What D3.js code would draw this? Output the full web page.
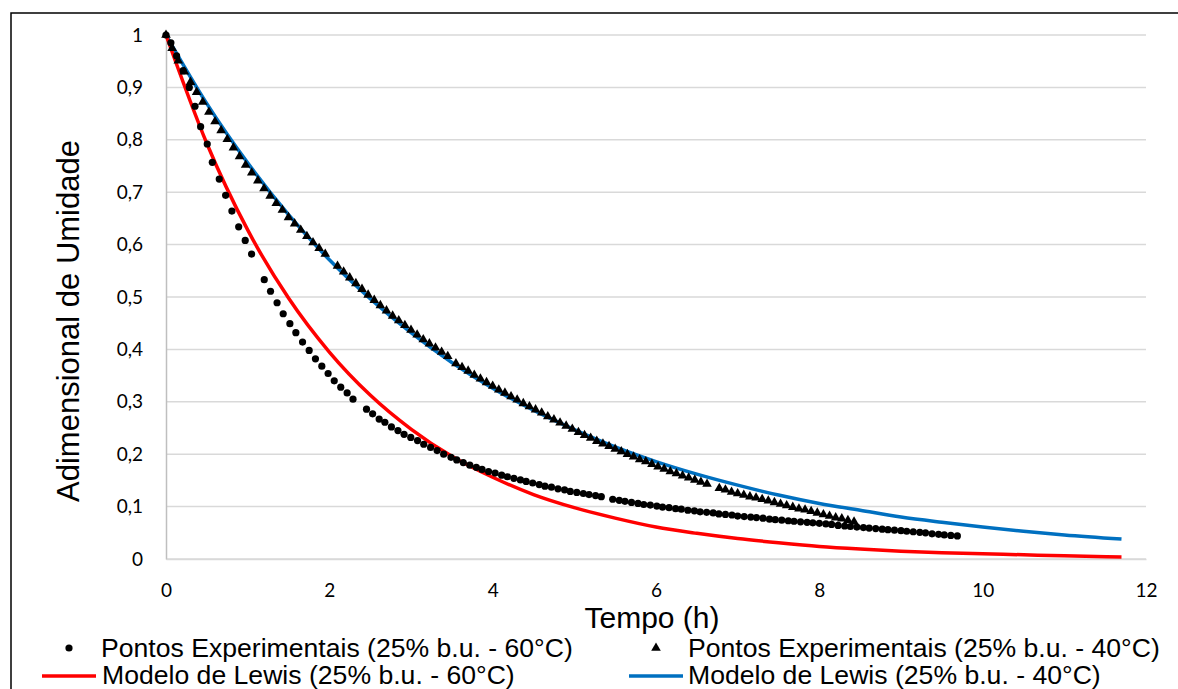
<!DOCTYPE html>
<html>
<head>
<meta charset="utf-8">
<script src="https://cdn.jsdelivr.net/npm/d3@7"></script>
<style>
  body { margin: 0; background: #fff; }
  svg { display: block; }
</style>
</head>
<body>
<svg id="chart" width="1178" height="689"></svg>
<script>
// experimental points, 25% b.u. - 60 C (circles)
var t60 = [0, 0.06, 0.13, 0.21, 0.285, 0.355, 0.424, 0.505, 0.567, 0.652, 0.73, 0.807, 0.89, 0.97, 1.048,
  1.203, 1.28, 1.36, 1.435, 1.517, 1.59, 1.672, 1.753, 1.83, 1.908, 1.985, 2.06, 2.14, 2.218, 2.29,
  2.455, 2.53, 2.61, 2.68, 2.76, 2.84, 2.915, 2.997, 3.08, 3.156, 3.24, 3.32, 3.40, 3.49, 3.56, 3.64, 3.72,
  3.80, 3.87, 3.95, 4.03, 4.11, 4.18, 4.26, 4.34, 4.41, 4.49, 4.57, 4.64, 4.72, 4.80, 4.88, 4.95, 5.03,
  5.11, 5.18, 5.26, 5.33,
  5.47, 5.55, 5.62, 5.70, 5.78, 5.85, 5.93, 6.01, 6.08, 6.16, 6.24, 6.31, 6.39, 6.47, 6.54, 6.62, 6.70,
  6.77, 6.85, 6.93, 7.00, 7.08, 7.16, 7.23, 7.31, 7.39, 7.46, 7.54, 7.62, 7.69, 7.77, 7.85, 7.92, 8.00,
  8.08, 8.15, 8.23, 8.31, 8.38, 8.46, 8.54, 8.61, 8.69, 8.77, 8.84, 8.92, 9.00, 9.07, 9.15, 9.23, 9.30,
  9.38, 9.46, 9.53, 9.61, 9.69];
var mr60 = [1.000, 0.985, 0.960, 0.932, 0.900, 0.864, 0.825, 0.792, 0.757, 0.725, 0.694, 0.664, 0.634, 0.608, 0.582,
  0.533, 0.511, 0.489, 0.468, 0.449, 0.432, 0.414, 0.398, 0.382, 0.368, 0.354, 0.340, 0.328, 0.317, 0.305,
  0.286, 0.277, 0.267, 0.261, 0.252, 0.245, 0.238, 0.232, 0.226, 0.219, 0.213, 0.207, 0.200, 0.194, 0.189, 0.184, 0.179,
  0.175, 0.171, 0.167, 0.164, 0.160, 0.157, 0.154, 0.151, 0.148, 0.145, 0.142, 0.139, 0.137, 0.134, 0.132, 0.129, 0.127,
  0.125, 0.123, 0.121, 0.119,
  0.114, 0.112, 0.110, 0.108, 0.106, 0.104, 0.103, 0.101, 0.099, 0.098, 0.096, 0.095, 0.093, 0.092, 0.090, 0.089, 0.088,
  0.086, 0.085, 0.084, 0.082, 0.081, 0.080, 0.079, 0.078, 0.076, 0.075, 0.074, 0.073, 0.072, 0.071, 0.070, 0.069, 0.068,
  0.067, 0.066, 0.064, 0.063, 0.062, 0.061, 0.060, 0.059, 0.058, 0.057, 0.056, 0.055, 0.054, 0.053, 0.052, 0.051, 0.050,
  0.048, 0.047, 0.046, 0.045, 0.044];

// experimental points, 25% b.u. - 40 C (triangles)
var t40 = [0, 0.075, 0.15, 0.225, 0.30, 0.375, 0.45, 0.525, 0.60, 0.675, 0.75, 0.825, 0.90, 0.975, 1.05, 1.125,
  1.20, 1.275, 1.35, 1.425, 1.50, 1.575, 1.65, 1.725, 1.80, 1.875, 1.95,
  2.10, 2.175, 2.25, 2.325, 2.40, 2.475, 2.55, 2.625, 2.70, 2.775, 2.85, 2.925, 3.00, 3.075, 3.15, 3.225, 3.30, 3.375, 3.45,
  3.55, 3.625, 3.70, 3.775, 3.85, 3.925, 4.00, 4.075, 4.15, 4.225, 4.30, 4.375, 4.45, 4.525, 4.60, 4.675, 4.75, 4.825,
  4.90, 4.975, 5.05, 5.125, 5.20, 5.275, 5.35, 5.425, 5.50, 5.575, 5.65, 5.725, 5.80, 5.875, 5.95, 6.025, 6.10, 6.175,
  6.25, 6.325, 6.40, 6.475, 6.55, 6.625,
  6.775, 6.85, 6.925, 7.00, 7.075, 7.15, 7.225, 7.30, 7.375, 7.45, 7.525, 7.60, 7.675, 7.75, 7.825, 7.90, 7.975, 8.05,
  8.125, 8.20, 8.275, 8.35, 8.425];
var mr40 = [1.000, 0.975, 0.951, 0.930, 0.910, 0.891, 0.872, 0.853, 0.835, 0.818, 0.801, 0.785, 0.768, 0.752, 0.737, 0.722,
  0.707, 0.693, 0.679, 0.666, 0.652, 0.640, 0.628, 0.616, 0.604, 0.593, 0.582,
  0.559, 0.548, 0.537, 0.526, 0.515, 0.504, 0.494, 0.484, 0.474, 0.464, 0.455, 0.446, 0.437, 0.428, 0.419, 0.411, 0.403, 0.395, 0.387,
  0.373, 0.366, 0.359, 0.351, 0.344, 0.337, 0.330, 0.323, 0.317, 0.310, 0.304, 0.297, 0.291, 0.285, 0.279, 0.272, 0.266, 0.260,
  0.254, 0.248, 0.242, 0.236, 0.231, 0.225, 0.220, 0.215, 0.210, 0.205, 0.200, 0.195, 0.190, 0.186, 0.181, 0.176, 0.172, 0.167,
  0.163, 0.159, 0.155, 0.151, 0.147, 0.143,
  0.135, 0.132, 0.128, 0.125, 0.122, 0.119, 0.117, 0.114, 0.111, 0.108, 0.105, 0.102, 0.099, 0.096, 0.094, 0.091, 0.088, 0.085,
  0.082, 0.079, 0.077, 0.074, 0.071];

// Lewis model curves
var tModel = [0, 0.5, 1, 1.5, 2, 2.5, 3, 3.5, 4, 4.5, 5, 5.5, 6, 6.5, 7, 7.5, 8, 8.5, 9, 9.5, 10, 10.5, 11, 11.7];
var lewis60 = [1, 0.793, 0.628, 0.498, 0.395, 0.313, 0.248, 0.196, 0.156, 0.123, 0.098, 0.078, 0.061, 0.049,
  0.039, 0.031, 0.024, 0.019, 0.015, 0.012, 0.010, 0.008, 0.006, 0.004];
var lewis40 = [1, 0.869, 0.756, 0.657, 0.571, 0.497, 0.432, 0.375, 0.326, 0.284, 0.247, 0.214, 0.186, 0.162,
  0.141, 0.122, 0.106, 0.093, 0.080, 0.070, 0.061, 0.053, 0.046, 0.038];

var xTicks = [0, 2, 4, 6, 8, 10, 12];
var yTicks = [0, 0.1, 0.2, 0.3, 0.4, 0.5, 0.6, 0.7, 0.8, 0.9, 1];

var legendLabels = [
  "Pontos Experimentais (25% b.u. - 60°C)",
  "Pontos Experimentais (25% b.u. - 40°C)",
  "Modelo de Lewis (25% b.u. - 60°C)",
  "Modelo de Lewis (25% b.u. - 40°C)"
];

var svg = d3.select("#chart");
var red = "#ff0000", blue = "#0070c0";

// outer frame
svg.append("rect")
  .attr("x", 11).attr("y", 13)
  .attr("width", 1200).attr("height", 700)
  .attr("fill", "none").attr("stroke", "#000").attr("stroke-width", 1.5);

var x = d3.scaleLinear().domain([0, 12]).range([166, 1146]);
var y = d3.scaleLinear().domain([0, 1]).range([559, 35]);

// gridlines
svg.append("g").selectAll("line")
  .data(yTicks)
  .enter().append("line")
    .attr("x1", x(0)).attr("x2", x(12))
    .attr("y1", function(d) { return y(d); })
    .attr("y2", function(d) { return y(d); })
    .attr("stroke", "#d9d9d9").attr("stroke-width", 1.5);

var fmt = function(d) { return String(d).replace(".", ","); };

var yAxis = svg.append("g")
  .attr("transform", "translate(" + x(0) + ",0)")
  .call(d3.axisLeft(y).tickValues(yTicks).tickFormat(fmt).tickSize(0).tickPadding(23));
yAxis.select(".domain").attr("stroke", "#bfbfbf").attr("stroke-width", 1.5);

var xAxis = svg.append("g")
  .attr("transform", "translate(0," + y(0) + ")")
  .call(d3.axisBottom(x).tickValues(xTicks).tickFormat(fmt).tickSize(0).tickPadding(25));
xAxis.select(".domain").attr("stroke", "#d9d9d9").attr("stroke-width", 1.5);

svg.selectAll(".tick text")
  .attr("font-family", "Lato, 'Open Sans', sans-serif")
  .attr("font-size", 19)
  .attr("fill", "#000");

// axis titles
svg.append("text")
  .attr("x", 652).attr("y", 628)
  .attr("text-anchor", "middle")
  .attr("font-family", "'Liberation Sans', Arial, sans-serif")
  .attr("font-size", 30)
  .text("Tempo (h)");

svg.append("text")
  .attr("transform", "translate(79,321) rotate(-90)")
  .attr("text-anchor", "middle")
  .attr("font-family", "'Liberation Sans', Arial, sans-serif")
  .attr("font-size", 31)
  .text("Adimensional de Umidade");

// model lines
var line = d3.line()
  .x(function(d) { return x(d[0]); })
  .y(function(d) { return y(d[1]); })
  .curve(d3.curveMonotoneX);

svg.append("path")
  .datum(d3.zip(tModel, lewis40))
  .attr("d", line)
  .attr("fill", "none").attr("stroke", blue).attr("stroke-width", 3.5);

svg.append("path")
  .datum(d3.zip(tModel, lewis60))
  .attr("d", line)
  .attr("fill", "none").attr("stroke", red).attr("stroke-width", 3.5);

// experimental points
var tri = d3.symbol().type(d3.symbolTriangle).size(40);

svg.append("g").selectAll("path")
  .data(d3.zip(t40, mr40))
  .enter().append("path")
    .attr("d", tri)
    .attr("transform", function(d) { return "translate(" + x(d[0]) + "," + y(d[1]) + ")"; })
    .attr("fill", "#000");

svg.append("g").selectAll("circle")
  .data(d3.zip(t60, mr60))
  .enter().append("circle")
    .attr("cx", function(d) { return x(d[0]); })
    .attr("cy", function(d) { return y(d[1]); })
    .attr("r", 3.6)
    .attr("fill", "#000");

// legend
var lg = svg.append("g")
  .attr("font-family", "'Liberation Sans', Arial, sans-serif")
  .attr("font-size", 26.6);

lg.append("circle").attr("cx", 69).attr("cy", 648).attr("r", 3.6).attr("fill", "#000");
lg.append("path").attr("d", tri).attr("transform", "translate(656,648)").attr("fill", "#000");
lg.append("line").attr("x1", 42).attr("x2", 96).attr("y1", 676).attr("y2", 676)
  .attr("stroke", red).attr("stroke-width", 3.5);
lg.append("line").attr("x1", 629).attr("x2", 683).attr("y1", 676).attr("y2", 676)
  .attr("stroke", blue).attr("stroke-width", 3.5);

var legendPos = [[101, 657], [688, 657], [102, 684], [688, 684]];
lg.selectAll("text")
  .data(legendLabels)
  .enter().append("text")
    .attr("x", function(d, i) { return legendPos[i][0]; })
    .attr("y", function(d, i) { return legendPos[i][1]; })
    .text(function(d) { return d; });
</script>
</body>
</html>
